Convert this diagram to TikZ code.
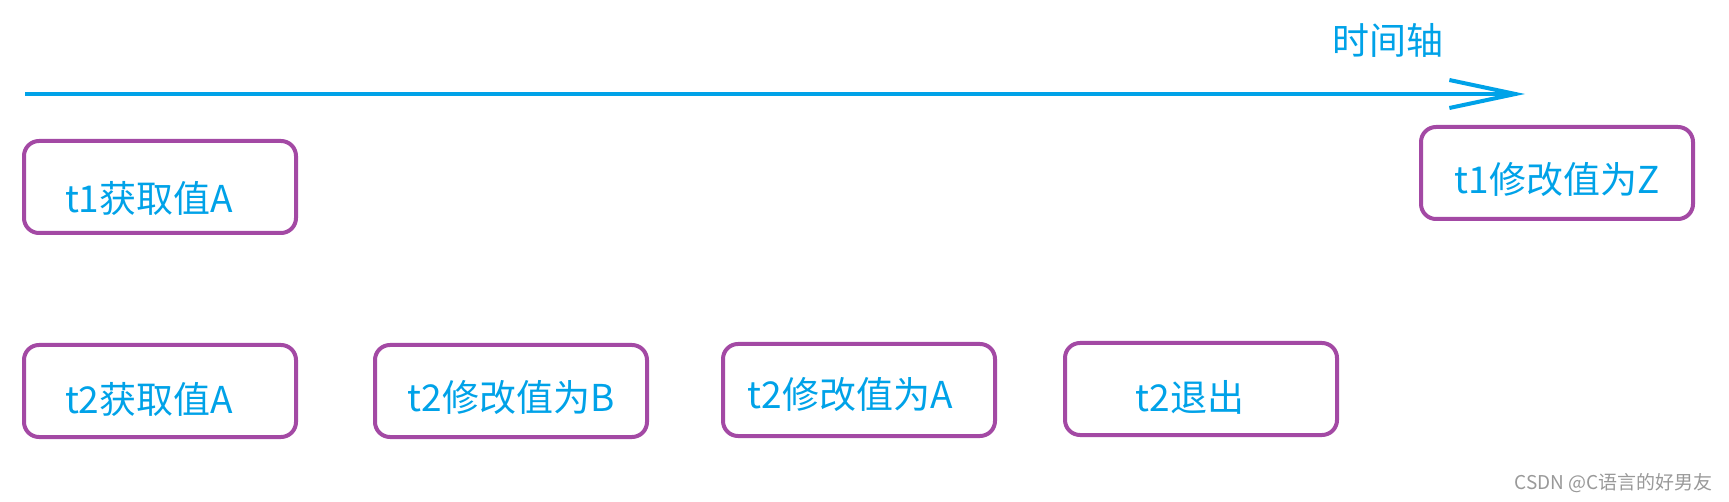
\documentclass[tikz,border=0pt]{standalone}
\usepackage{fontspec}
\newfontfamily\cjk{Noto Sans CJK SC}
\usetikzlibrary{arrows.meta, positioning}
\definecolor{stepblue}{RGB}{0,162,232}
\definecolor{steppurple}{RGB}{163,73,164}

\begin{document}
\begin{tikzpicture}[x=1pt, y=-1pt,
    stepbox/.style={draw=steppurple, line width=4pt, rounded corners=15pt,
                    minimum width=272pt, minimum height=92pt},
    steptext/.style={text=stepblue, font=\cjk\fontsize{37}{40}\selectfont},
    axisline/.style={draw=stepblue, line width=4pt,
                     -{Straight Barb[length=66pt, width=28pt, line width=4pt]}}]
    \useasboundingbox (0,0) rectangle (1729,502);

    % time axis
    \coordinate (axisstart) at (25,94);
    \coordinate (axisend) at (1525,94);
    \draw[axisline] (axisstart) -- (axisend);
    \node[steptext] (axislabel) at (1388,40) {时间轴};

    % thread t1
    \node[stepbox, label={[steptext, xshift=-11pt, yshift=-11pt]center:t1获取值A}] (t1get) at (160,187) {};
    \node[stepbox, label={[steptext, yshift=-6pt]center:t1修改值为Z}] (t1set) at (1557,173) {};

    % thread t2
    \node[stepbox, label={[steptext, xshift=-11pt, yshift=-8pt]center:t2获取值A}] (t2get) at (160,391) {};
    \node[stepbox, label={[steptext, yshift=-6pt]center:t2修改值为B}] (t2setb) at (511,391) {};
    \node[stepbox, label={[steptext, xshift=-9pt, yshift=-4pt]center:t2修改值为A}] (t2seta) at (859,390) {};
    \node[stepbox, label={[steptext, xshift=-11pt, yshift=-8pt]center:t2退出}] (t2exit) at (1201,389) {};

    % watermark
    \node[text=black!40, font=\cjk\fontsize{19}{21}\selectfont, anchor=east] (mark) at (1716,483) {CSDN @C语言的好男友};
\end{tikzpicture}
\end{document}
